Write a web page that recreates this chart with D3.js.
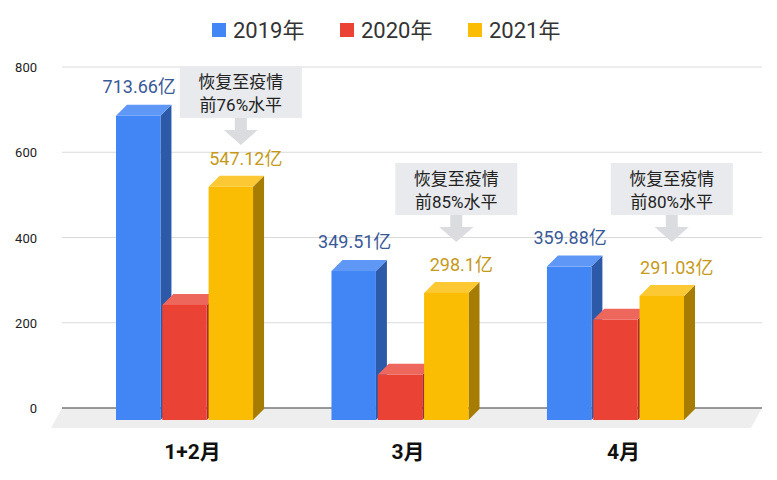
<!DOCTYPE html><html><head><meta charset="utf-8">
<script src="https://cdn.jsdelivr.net/npm/d3@7"></script>
<style>body{margin:0;background:#fff}text{font-family:Roboto,"Noto Sans CJK SC",sans-serif}</style></head><body>
<svg id="c" width="777" height="480"></svg>
<script>
const categories=["1+2月","3月","4月"];
const seriesNames=["2019年","2020年","2021年"];
const v2019=[713.66,349.51,359.88];
const v2020=[270,106,235];
const v2021=[547.12,298.1,291.03];
const labels2019=["713.66亿","349.51亿","359.88亿"];
const labels2021=["547.12亿","298.1亿","291.03亿"];
const notes=[["恢复至疫情","前76%水平"],["恢复至疫情","前85%水平"],["恢复至疫情","前80%水平"]];
const yTicks=[0,200,400,600,800];
const cols=[{f:"#4285f4",s:"#2c5aa8",t:"#5e97f6"},{f:"#ea4335",s:"#a8302a",t:"#ee675c"},{f:"#fbbc04",s:"#a67c02",t:"#fcc934"}];
const svg=d3.select("#c");
const y=d3.scaleLinear().domain([0,800]).range([408,67]);
const x=d3.scaleBand().domain(categories).range([116,684]).paddingInner(0.364).paddingOuter(0);
const xi=d3.scaleBand().domain(seriesNames).range([0,x.bandwidth()]).paddingInner(0.04);
const D=11,F=12;
svg.append("path").attr("d",`M62,408 L762,408 L751,428 L51,428 Z`).attr("fill","#eeeeee");
svg.append("g").selectAll("line").data(yTicks.slice(1)).join("line").attr("x1",62).attr("x2",762).attr("y1",d=>y(d)).attr("y2",d=>y(d)).attr("stroke","#dadada");
svg.append("line").attr("x1",62).attr("x2",762).attr("y1",408).attr("y2",408).attr("stroke","#777").attr("stroke-width",1.5);
svg.append("g").selectAll("text").data(yTicks).join("text").attr("x",37).attr("y",d=>y(d)+5).attr("text-anchor","end").attr("font-size",13).attr("fill","#222").text(d=>d);
const all=[v2019,v2020,v2021];
categories.forEach((c,ci)=>{
  all.forEach((arr,si)=>{
    const x0=x(c)+xi(seriesNames[si]),w=xi.bandwidth(),yb=y(0)+F,yt=y(arr[ci])+F,cl=cols[si];
    const g=svg.append("g");
    g.append("path").attr("d",`M${x0+w},${yt} L${x0+w+D},${yt-D} L${x0+w+D},${yb-D} L${x0+w},${yb} Z`).attr("fill",cl.s);
    g.append("path").attr("d",`M${x0},${yt} L${x0+D},${yt-D} L${x0+w+D},${yt-D} L${x0+w},${yt} Z`).attr("fill",cl.t);
    g.append("rect").attr("x",x0).attr("y",yt).attr("width",w).attr("height",yb-yt).attr("fill",cl.f);
  });
  const bx=x(c)+xi("2019年")+xi.bandwidth()/2+1;
  svg.append("text").attr("x",bx).attr("y",y(v2019[ci])-11).attr("text-anchor","middle").attr("font-size",18).attr("fill","#3a5997").text(labels2019[ci]);
  const yc=x(c)+xi("2021年")+xi.bandwidth()/2;
  const yx=yc+15;
  svg.append("text").attr("x",yx).attr("y",y(v2021[ci])-10).attr("text-anchor","middle").attr("font-size",18).attr("fill","#c59a1a").text(labels2021[ci]);
  const by=ci==0?66:163, bc=yc+10;
  svg.append("rect").attr("x",bc-61).attr("y",by).attr("width",122).attr("height",52).attr("fill","#e8eaed");
  notes[ci].forEach((t,k)=>svg.append("text").attr("x",bc).attr("y",by+22+k*23).attr("text-anchor","middle").attr("font-size",17).attr("fill","#222").text(t));
  const ay=by+52, ac=bc;
  svg.append("path").attr("d",`M${ac-6},${ay} L${ac+6},${ay} L${ac+6},${ay+12} L${ac+17},${ay+12} L${ac},${ay+27} L${ac-17},${ay+12} L${ac-6},${ay+12} Z`).attr("fill","#dadce0");
  svg.append("text").attr("x",x(c)+x.bandwidth()/2+8).attr("y",459).attr("text-anchor","middle").attr("font-size",21).attr("font-weight","bold").attr("fill","#111").text(c);
});
const lx=[212,340,468];
seriesNames.forEach((s,i)=>{
  svg.append("rect").attr("x",lx[i]).attr("y",23).attr("width",14).attr("height",14).attr("fill",cols[i].f);
  svg.append("text").attr("x",lx[i]+21).attr("y",38).attr("font-size",22).attr("fill","#333").text(s);
});
</script></body></html>
